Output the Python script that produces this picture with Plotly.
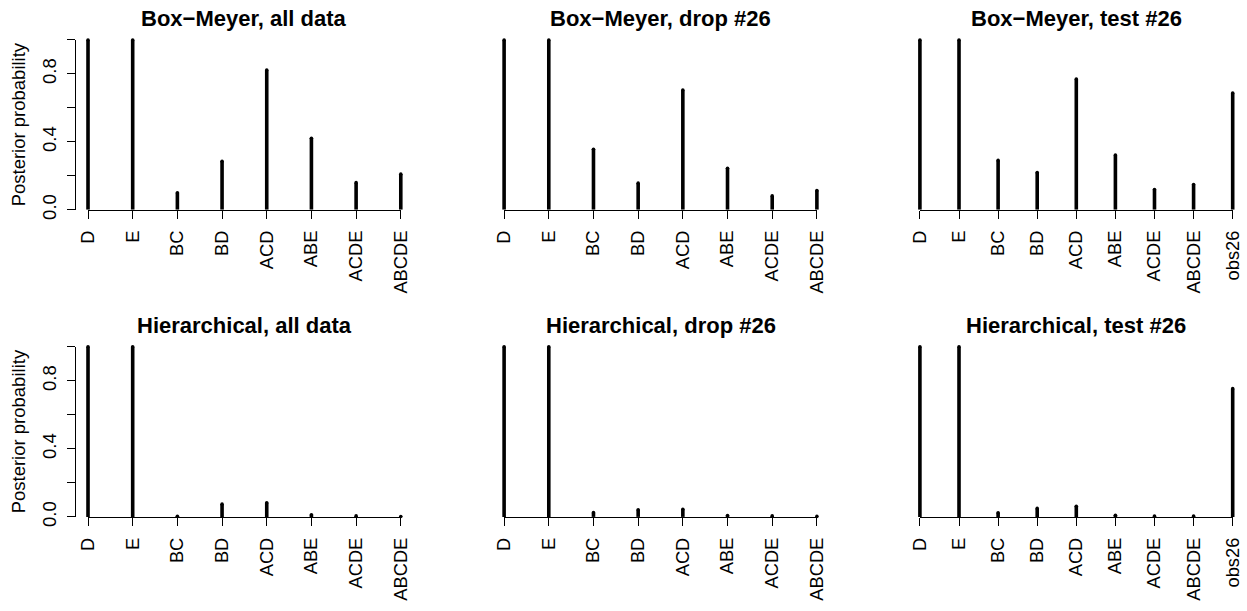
import plotly.graph_objects as go

W, H = 1247, 611

cats8 = ["D", "E", "BC", "BD", "ACD", "ABE", "ACDE", "ABCDE"]
cats9 = cats8 + ["obs26"]

bm_all = [1.0, 1.0, 0.10, 0.286, 0.823, 0.421, 0.160, 0.210]
bm_drop = [1.0, 1.0, 0.356, 0.157, 0.705, 0.245, 0.082, 0.113]
bm_test = [1.0, 1.0, 0.291, 0.220, 0.770, 0.322, 0.119, 0.149, 0.688]
hi_all = [1.0, 1.0, 0.004, 0.075, 0.083, 0.013, 0.006, 0.002]
hi_drop = [1.0, 1.0, 0.025, 0.042, 0.045, 0.008, 0.006, 0.003]
hi_test = [1.0, 1.0, 0.024, 0.050, 0.062, 0.010, 0.005, 0.005, 0.754]

titles = ["Box\u2212Meyer, all data", "Box\u2212Meyer, drop #26", "Box\u2212Meyer, test #26",
          "Hierarchical, all data", "Hierarchical, drop #26", "Hierarchical, test #26"]
panels = [(cats8, bm_all), (cats8, bm_drop), (cats9, bm_test),
          (cats8, hi_all), (cats8, hi_drop), (cats9, hi_test)]

ylab = "Posterior probability"
ytickvals = [0.0, 0.2, 0.4, 0.6, 0.8, 1.0]
yticktext = ["0.0", "", "0.4", "", "0.8", ""]

FONT = "Liberation Sans, Arial, Helvetica, sans-serif"

# layout geometry (pixels)
col_left = [75.5, 491.6, 907.4]
col_width = 337.8
row_top = [40.6, 352.6]
row_bot = [213.3, 525.5]

fig = go.Figure()
layout = dict(width=W, height=H, margin=dict(l=0, r=0, t=0, b=0),
              paper_bgcolor="white", plot_bgcolor="rgba(0,0,0,0)",
              showlegend=False, font=dict(family=FONT, color="black"))
annotations = []

LW = 3.6
for k, ((cats, vals), title) in enumerate(zip(panels, titles)):
    r, c = divmod(k, 3)
    n = len(cats)
    xs = list(range(1, n + 1))
    pad = 0.04 * (n - 1)
    x0p = col_left[c]
    x1p = col_left[c] + col_width
    xd = [x0p / W, x1p / W]
    yd = [1 - row_bot[r] / H, 1 - row_top[r] / H]
    ax = "" if k == 0 else str(k + 1)
    axb = str(k + 7)

    # baseline axis (spans first..last category like R's axis())
    fig.add_trace(go.Scatter(x=[], y=[], xaxis="x" + axb, yaxis="y" + ax))

    lx, ly = [], []
    for x, v in zip(xs, vals):
        lx += [x, x, None]
        ly += [0, v, None]
    fig.add_trace(go.Scatter(x=lx, y=ly, mode="lines",
                             line=dict(color="black", width=LW),
                             xaxis="x" + ax, yaxis="y" + ax, hoverinfo="skip"))
    fig.add_trace(go.Scatter(x=xs, y=vals, mode="markers",
                             marker=dict(color="black", size=LW, line=dict(width=0)),
                             cliponaxis=False,
                             xaxis="x" + ax, yaxis="y" + ax, hoverinfo="skip"))

    layout["xaxis" + ax] = dict(
        domain=xd, anchor="y" + ax, range=[1 - pad, n + pad],
        tickmode="array", tickvals=xs, ticktext=cats, tickangle=-90,
        ticks="outside", ticklen=8.5, tickwidth=1, tickcolor="black",
        showline=False, showgrid=False, zeroline=False,
        tickfont=dict(family=FONT, size=18.3, color="black"),
        ticklabelstandoff=4,
    )
    frac = pad / ((n - 1) + 2 * pad)
    wdom = xd[1] - xd[0]
    layout["xaxis" + axb] = dict(
        domain=[xd[0] + frac * wdom, xd[1] - frac * wdom], anchor="y" + ax,
        range=[1, n], showline=True, linecolor="black", linewidth=1,
        showticklabels=False, ticks="", showgrid=False, zeroline=False,
    )
    yax = dict(domain=yd, anchor="x" + ax, range=[0, 1],
               showgrid=False, zeroline=False)
    if c == 0:
        yax.update(tickmode="array", tickvals=ytickvals, ticktext=yticktext,
                   ticks="outside", ticklen=7.7, tickwidth=1, tickcolor="black",
                   showline=True, linecolor="black", linewidth=1,
                   tickangle=-90,
                   tickfont=dict(family=FONT, size=18.5, color="black"),
                   ticklabelstandoff=3)
        annotations.append(dict(text=ylab, xref="paper", yref="paper",
                                x=18.5 / W, y=(yd[0] + yd[1]) / 2,
                                xanchor="center", yanchor="middle", textangle=-90,
                                showarrow=False,
                                font=dict(family=FONT, size=18.5, color="black")))
    else:
        yax.update(showticklabels=False, ticks="", showline=False)
    layout["yaxis" + ax] = yax

    ty = 18.5 + r * 312.2
    annotations.append(dict(text="<b>" + title + "</b>", xref="paper", yref="paper",
                            x=(x0p + x1p) / 2 / W, y=1 - ty / H,
                            xanchor="center", yanchor="middle", showarrow=False,
                            font=dict(family=FONT, size=22, color="black")))

layout["annotations"] = annotations
fig.update_layout(**layout)
fig.write_html("out.html")
